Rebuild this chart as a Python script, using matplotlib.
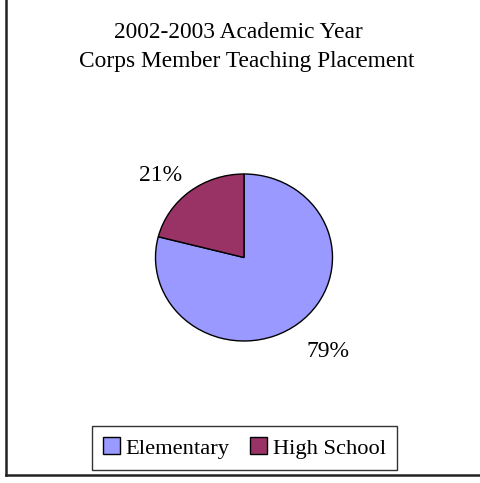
import matplotlib
matplotlib.use("Agg")
import numpy as np
import matplotlib.pyplot as plt
from matplotlib.lines import Line2D

categories = ["Elementary", "High School"]
values = [79, 21]
colors = ["#9999FF", "#993366"]
title_lines = ["2002-2003 Academic Year", "Corps Member Teaching Placement"]

plt.rcParams['font.family'] = ['Liberation Serif', 'DejaVu Serif']

W, H = 480, 483
fig = plt.figure(figsize=(W / 100, H / 100), dpi=100)
fig.patch.set_facecolor("white")

# pie axes (slightly elliptical like reference)
cx, cy, rx, ry = 244, 257.5, 88.5, 83.5
ax = fig.add_axes([(cx - rx) / W, (H - cy - ry) / H, 2 * rx / W, 2 * ry / H])
wedges, texts, autotexts = ax.pie(
    values, colors=colors, startangle=90, counterclock=False,
    autopct=lambda p: f"{p:.0f}%", pctdistance=1.42,
    wedgeprops=dict(edgecolor="black", linewidth=1.0),
    textprops=dict(fontsize=17, color="black"),
)
# nudge labels slightly around the circle (Excel-style placement)
for w, t in zip(wedges, autotexts):
    mid = np.deg2rad((w.theta1 + w.theta2) / 2 + 4)
    t.set_position((1.42 * np.cos(mid), 1.42 * np.sin(mid) - 0.072))
ax.set_aspect("auto")
ax.set_xlim(-1, 1)
ax.set_ylim(-1, 1)
ax.axis("off")

# title
fig.text(238 / W, 1 - 33 / H, title_lines[0], ha="center", va="center", fontsize=16.8)
fig.text(247 / W, 1 - 62 / H, title_lines[1], ha="center", va="center", fontsize=16.8)

# legend
leg = fig.legend(wedges, categories, loc="center", bbox_to_anchor=(244.5 / W, 1 - 448 / H),
                 ncol=2, fontsize=16.2, frameon=True, fancybox=False, edgecolor="black",
                 handlelength=0.75, handleheight=0.75, handletextpad=0.25, columnspacing=0.9,
                 borderpad=0.5, borderaxespad=0)
leg.get_frame().set_linewidth(1.0)

# chart border (left and bottom visible)
fig.add_artist(Line2D([5.5 / W, 5.5 / W], [(H - 475) / H, 1.0], transform=fig.transFigure,
                      color="#222222", linewidth=1.8))
fig.add_artist(Line2D([5.5 / W, 1.0], [(H - 475) / H, (H - 475) / H], transform=fig.transFigure,
                      color="#222222", linewidth=1.8))

fig.savefig("out.png", dpi=100)
